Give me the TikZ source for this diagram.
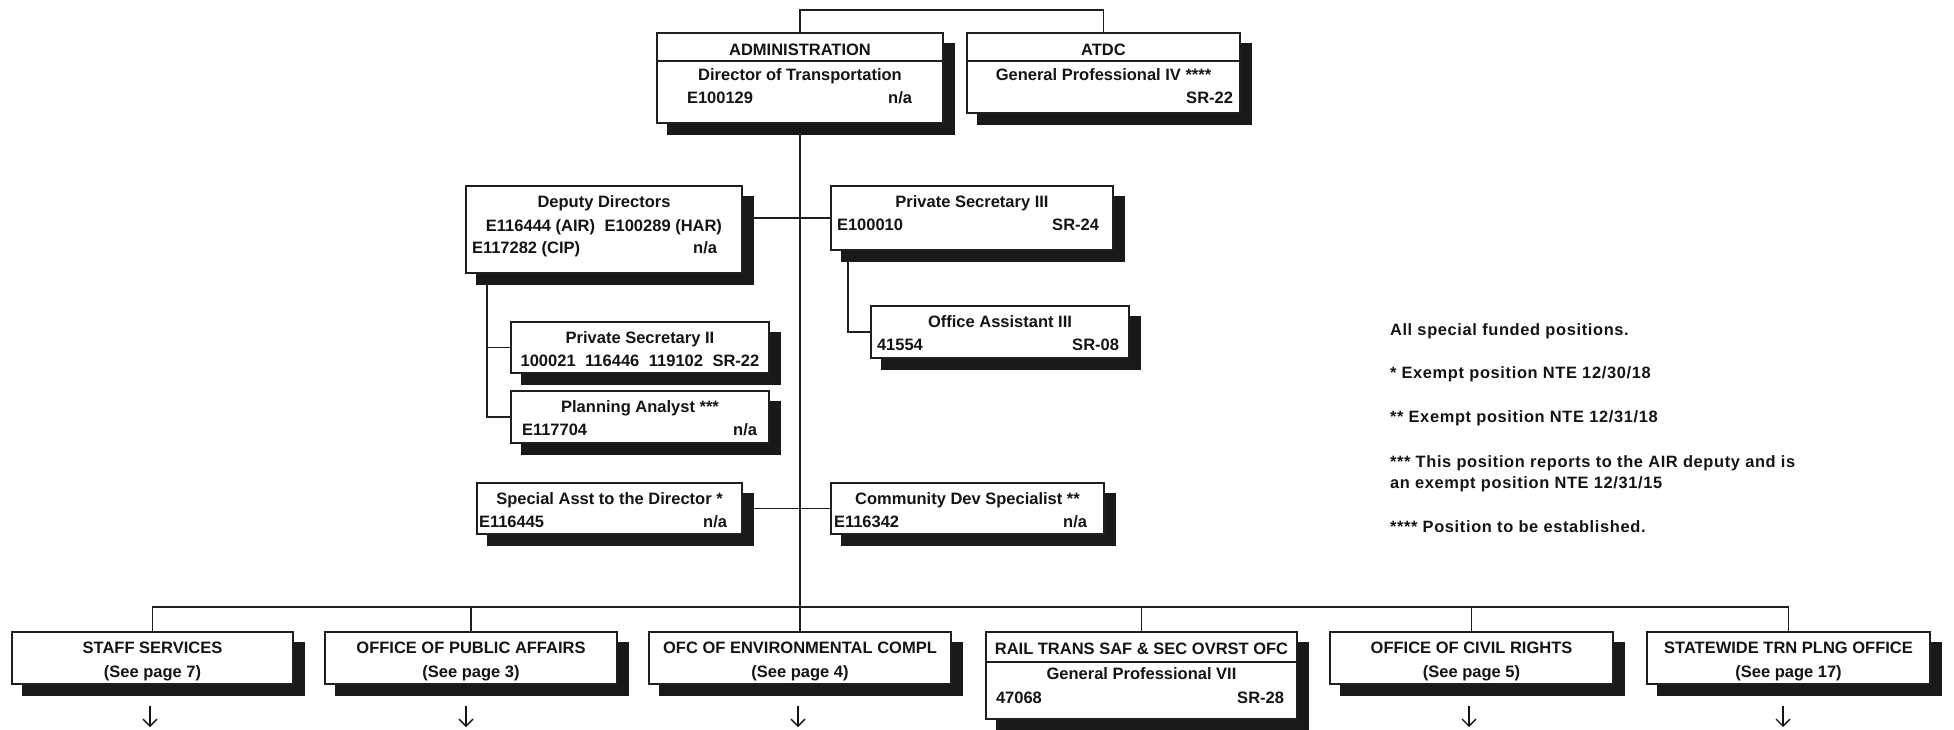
\documentclass[tikz,border=0pt]{standalone}
\usepackage{fontspec}
\setmainfont{Liberation Sans}
\newfontfamily\legendfont[LetterSpace=4]{Liberation Sans}
\usetikzlibrary{calc,backgrounds,arrows.meta}
\newcommand\obox[5]{%
  \fill[shadowbox] (#2+10,#3+10) rectangle (#4+12,#5+12);
  \node[orgbox, minimum width=#4-#2, minimum height=#5-#3] (#1) at (#2,#3) {};
}
\begin{document}
\begin{tikzpicture}[x=1pt,y=-1pt,
  orgbox/.style={draw=black!88, line width=2pt, fill=white, inner sep=0pt, outer sep=0pt, anchor=north west},
  shadowbox/.style={fill=black!90, draw=none},
  divider/.style={draw=black!88, line width=2pt},
  conn/.style={draw=black!88, line width=1.8pt},
  txt/.style={font=\bfseries\fontsize{16.5}{19}\selectfont, inner sep=0pt, outer sep=0pt, text=black!92},
  ctr/.style={txt, anchor=base},
  lft/.style={txt, anchor=base west},
  rgt/.style={txt, anchor=base east},
  leg/.style={font=\legendfont\bfseries\fontsize{16.4}{19}\selectfont, inner sep=0pt, outer sep=0pt, anchor=base west, text=black!92},
  offarrow/.style={draw=black!92, line width=1.4pt, -{Straight Barb[length=7pt,width=14pt,line width=1.4pt]}}
]
\useasboundingbox (0,0) rectangle (1954,729);

% ---- boxes ----
\obox{admin}{657}{33}{943}{123}
\obox{atdc}{967}{33}{1240}{113}
\obox{deputy}{466}{186}{742}{273}
\obox{psiii}{831}{186}{1113}{250}
\obox{psii}{511}{322}{769}{373}
\obox{pa}{511}{391}{769}{443}
\obox{oa}{871}{306}{1129}{358}
\obox{special}{477}{483}{742}{534}
\obox{community}{831}{483}{1104}{534}
\obox{staff}{12}{632}{293}{684}
\obox{public}{325}{632}{617}{684}
\obox{env}{649}{632}{951}{684}
\obox{rail}{986}{632}{1297}{719}
\obox{civil}{1330}{632}{1613}{684}
\obox{statewide}{1647}{632}{1930}{684}

% header dividers
\draw[divider] ([yshift=-28pt]admin.north west) -- ([yshift=-28pt]admin.north east);
\draw[divider] ([yshift=-28pt]atdc.north west) -- ([yshift=-28pt]atdc.north east);
\draw[divider] ([yshift=-30pt]rail.north west) -- ([yshift=-30pt]rail.north east);

% ---- texts ----
\node[ctr] (admin-h) at (800,55) {ADMINISTRATION};
\node[ctr] (admin-t) at (800,80) {Director of Transportation};
\node[lft] (admin-l) at (687,103) {E100129};
\node[rgt] (admin-r) at (912,103) {n/a};

\node[ctr] (atdc-h) at (1103.5,55) {ATDC};
\node[ctr] (atdc-t) at (1103.5,80) {General Professional IV ****};
\node[rgt] (atdc-r) at (1233,103) {SR-22};

\node[ctr] (deputy-t) at (604,207) {Deputy Directors};
\node[ctr] (deputy-c) at (604,231) {E116444 (AIR)\hspace{0.3em} E100289 (HAR)};
\node[lft] (deputy-l) at (472,253) {E117282 (CIP)};
\node[rgt] (deputy-r) at (717,253) {n/a};

\node[ctr] (psiii-t) at (972,207) {Private Secretary III};
\node[lft] (psiii-l) at (837,230) {E100010};
\node[rgt] (psiii-r) at (1099,230) {SR-24};

\node[ctr] (oa-t) at (1000,327) {Office Assistant III};
\node[lft] (oa-l) at (877,350) {41554};
\node[rgt] (oa-r) at (1119,350) {SR-08};

\node[ctr] (psii-t) at (640,343) {Private Secretary II};
\node[ctr] (psii-c) at (640,366) {100021\hspace{0.3em} 116446\hspace{0.3em} 119102\hspace{0.3em} SR-22};

\node[ctr] (pa-t) at (640,412) {Planning Analyst ***};
\node[lft] (pa-l) at (522,435) {E117704};
\node[rgt] (pa-r) at (757,435) {n/a};

\node[ctr] (special-t) at (609.5,504) {Special Asst to the Director *};
\node[lft] (special-l) at (479,527) {E116445};
\node[rgt] (special-r) at (727,527) {n/a};

\node[ctr] (community-t) at (967.5,504) {Community Dev Specialist **};
\node[lft] (community-l) at (834,527) {E116342};
\node[rgt] (community-r) at (1087,527) {n/a};

\node[ctr] (staff-t) at (152.5,653) {STAFF SERVICES};
\node[ctr] (staff-p) at (152.5,677) {(See page 7)};
\node[ctr] (public-t) at (471,653) {OFFICE OF PUBLIC AFFAIRS};
\node[ctr] (public-p) at (471,677) {(See page 3)};
\node[ctr] (env-t) at (800,653) {OFC OF ENVIRONMENTAL COMPL};
\node[ctr] (env-p) at (800,677) {(See page 4)};
\node[ctr] (rail-h) at (1141.5,654) {RAIL TRANS SAF \& SEC OVRST OFC};
\node[ctr] (rail-t) at (1141.5,679) {General Professional VII};
\node[lft] (rail-l) at (996,703) {47068};
\node[rgt] (rail-r) at (1284,703) {SR-28};
\node[ctr] (civil-t) at (1471.5,653) {OFFICE OF CIVIL RIGHTS};
\node[ctr] (civil-p) at (1471.5,677) {(See page 5)};
\node[ctr] (statewide-t) at (1788.5,653) {STATEWIDE TRN PLNG OFFICE};
\node[ctr] (statewide-p) at (1788.5,677) {(See page 17)};

% ---- legend ----
\node[leg] (note0) at (1390,335) {All special funded positions.};
\node[leg] (note1) at (1390,378) {* Exempt position NTE 12/30/18};
\node[leg] (note2) at (1390,422) {** Exempt position NTE 12/31/18};
\node[leg] (note3) at (1390,467) {*** This position reports to the AIR deputy and is};
\node[leg] (note3b) at (1390,488) {an exempt position NTE 12/31/15};
\node[leg] (note4) at (1390,532) {**** Position to be established.};

% ---- off-page arrows ----
\foreach \n/\x in {staff/150, public/466, env/798, civil/1469, statewide/1783}{
  \coordinate (\n-a1) at (\x,706);
  \coordinate (\n-a2) at (\x,727);
  \draw[offarrow] (\n-a1) -- (\n-a2);
}

% ---- connectors ----
\begin{pgfonlayer}{background}
  \fill[white] (0,0) rectangle (1954,729);
  \coordinate (topbar) at (0,10);
  \draw[conn] (admin.north) |- (topbar -| atdc.north) -- (atdc.north);
  \coordinate (bus) at (800,607);
  \draw[conn] (admin.south) -- (bus);
  \draw[conn] (staff.north) |- (statewide.north |- bus) -- (statewide.north);
  \foreach \n in {public, env, rail, civil}{
    \draw[conn] (\n.north) -- (\n.north |- bus);
  }
  \draw[conn] (deputy.east |- psiii.west) -- (psiii.west);
  \coordinate (dtap) at (487,273);
  \draw[conn] (dtap) |- (pa.west);
  \draw[conn] (dtap |- psii.west) -- (psii.west);
  \coordinate (ptap) at (848,250);
  \draw[conn] (ptap) |- (oa.west);
  \draw[conn] (special.east) -- (community.west);
\end{pgfonlayer}
\end{tikzpicture}
\end{document}
